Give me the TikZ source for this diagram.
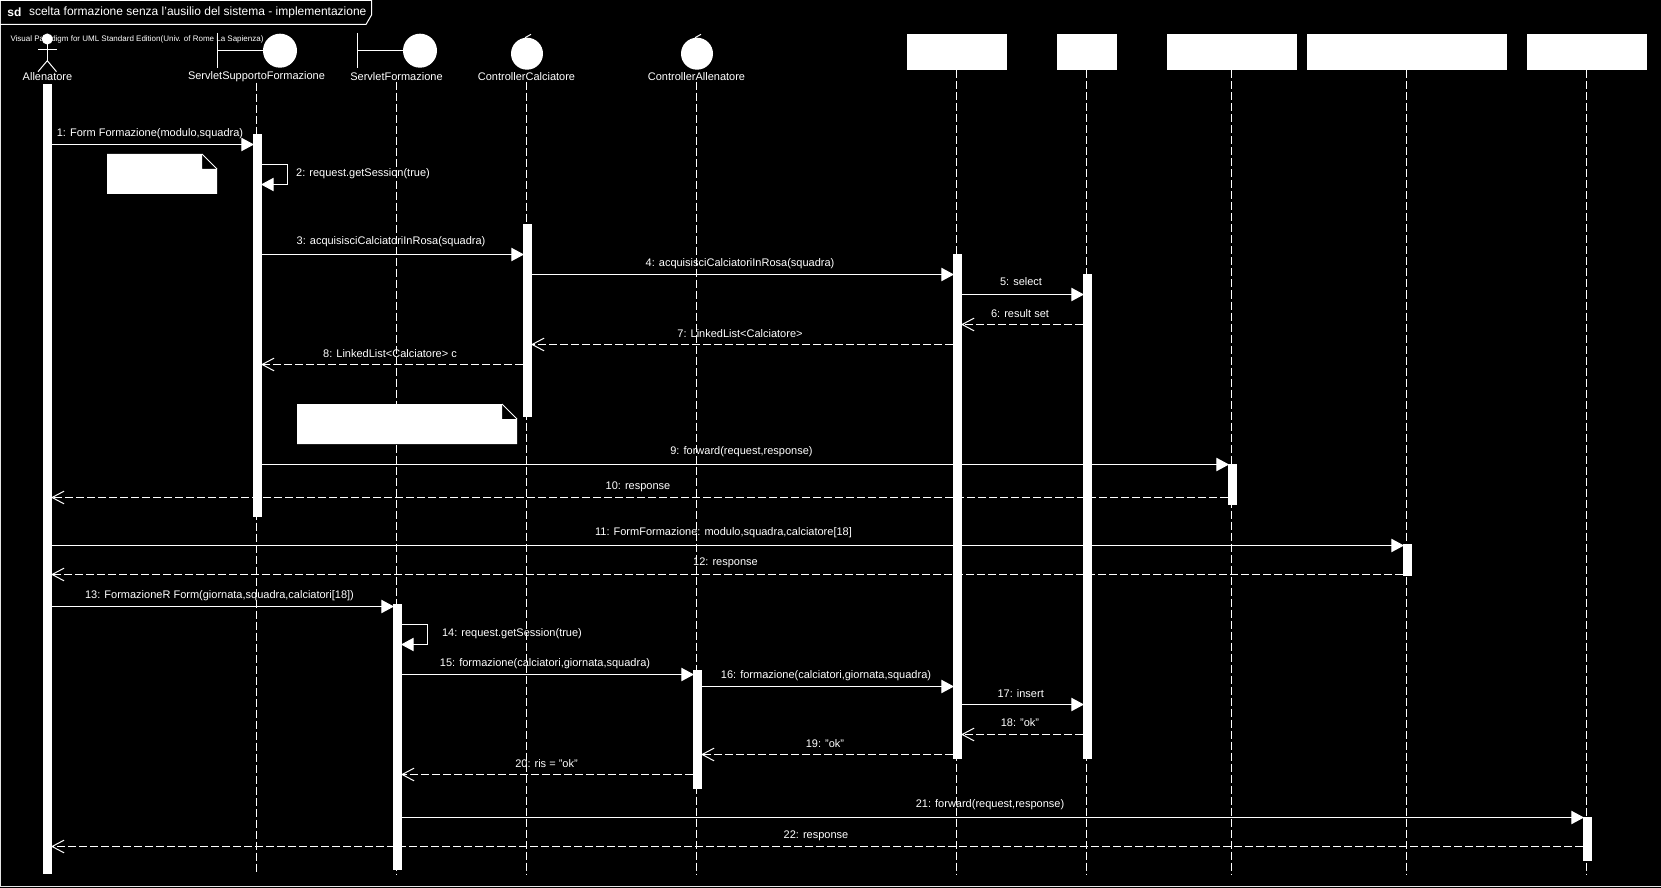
\documentclass[tikz,border=0pt]{standalone}
\usepackage{fontspec}
\setmainfont{Liberation Sans}
\usetikzlibrary{arrows.meta}

\begin{document}
\begin{tikzpicture}[x=0.75pt, y=-0.75pt,
                    white, line width=0.75pt,
                    lbl/.style={inner sep=0pt, text=white, font=\fontsize{8.25}{10}\selectfont},
                    msglbl/.style={lbl, yshift=-1pt},
                    bar/.style={fill=white, inner sep=0pt, outer sep=0pt, minimum width=6.75pt, minimum height=#1*0.75pt, anchor=north},
                    objbox/.style={fill=white, inner sep=0pt, minimum height=27pt, minimum width=#1*0.75pt},
                    circ/.style={circle, fill=white, inner sep=0pt, outer sep=0pt, minimum size=#1*0.75pt},
                    lifeline/.style={dash pattern=on 6pt off 2.25pt},
                    msg/.style={shorten >=-0.75pt, -{Triangle[length=9.5pt, width=10pt]}},
                    ret/.style={dash pattern=on 6pt off 2.25pt, shorten >=-0.75pt, -{Straight Barb[length=9pt, width=9.5pt]}}
                    ]
    \useasboundingbox (0,0) rectangle (1661,888);
    \fill[black] (0,0) rectangle (1661,888);

    % frame and title
    \draw[gray!20] (0.5,0.5) |- (1661,886.5);
    \draw (0,0.5) -- (371.5,0.5) -- (371.5,15) -- (366,24.5) -- (0,24.5);
    \node[lbl, font=\bfseries\fontsize{9}{11}\selectfont, anchor=west] (sd) at (7,12.7) {sd};
    \node[lbl, font=\fontsize{9}{11}\selectfont, anchor=west] (title) at (28.5,12.7) {scelta formazione senza l'ausilio del sistema - implementazione};
    \node[lbl, font=\fontsize{6}{7}\selectfont, anchor=west] (mark) at (10,39) {Visual Paradigm for UML Standard Edition(Univ. of Rome La Sapienza)};

    \coordinate (bot) at (0,874);

    % actor
    \node[circ=11] (head) at (47.3,39) {};
    \coordinate (hip) at (47.3,60.7);
    \draw (head) -- (hip);
    \draw (38,50) -- (56.5,50);
    \draw (38,71.7) -- (hip) -- (56.5,71.7);
    \node[lbl] (tAll) at (47.5,77) {Allenatore};

    % boundaries
    \node[circ=34] (cSup) at (280,50.7) {};
    \coordinate (wSup) at (217.5,50.7);
    \draw (wSup) -- (cSup);
    \draw (217.5,33) -- (217.5,68);
    \node[lbl] (tSup) at (256.5,77) {ServletSupportoFormazione};

    \node[circ=34] (cFor) at (420,50.7) {};
    \coordinate (wFor) at (357.5,50.7);
    \draw (wFor) -- (cFor);
    \draw (357.5,33) -- (357.5,68);
    \node[lbl] (tFor) at (396.5,77) {ServletFormazione};

    % controllers
    \node[circ=32] (cCal) at (527,53.7) {};
    \draw (525,37.7) -- (531,34.3);
    \node[lbl] (tCal) at (526.5,77) {ControllerCalciatore};

    \node[circ=32] (cCtr) at (697,53.7) {};
    \draw (695,37.7) -- (701,34.3);
    \node[lbl] (tCtr) at (696.5,77) {ControllerAllenatore};

    % boxes
    \node[objbox=100] (boxC) at (956.5,52) {};
    \node[objbox=60]  (boxD) at (1086.5,52) {};
    \node[objbox=130] (boxE) at (1231.5,52) {};
    \node[objbox=200] (boxF) at (1406.5,52) {};
    \node[objbox=120] (boxG) at (1586.5,52) {};

    % lifelines
    \draw[lifeline] (tSup.south) -- (tSup.south |- bot);
    \draw[lifeline] (tFor.south) -- (tFor.south |- bot);
    \draw[lifeline] (tCal.south) -- (tCal.south |- bot);
    \draw[lifeline] (tCtr.south) -- (tCtr.south |- bot);
    \draw[lifeline] (boxC.south) -- (boxC.south |- bot);
    \draw[lifeline] (boxD.south) -- (boxD.south |- bot);
    \draw[lifeline] (boxE.south) -- (boxE.south |- bot);
    \draw[lifeline] (boxF.south) -- (boxF.south |- bot);
    \draw[lifeline] (boxG.south) -- (boxG.south |- bot);

    % activations
    \node[bar=790] (barAll) at (47.5,84) {};
    \node[bar=383] (barSup) at (257.5,134) {};
    \node[bar=266] (barFor) at (397.5,604) {};
    \node[bar=192.5] (barCal) at (527.5,224) {};
    \node[bar=119] (barCtr) at (697.5,670) {};
    \node[bar=505] (barC) at (957.5,254) {};
    \node[bar=485] (barD) at (1087.5,274) {};
    \node[bar=41]  (barE) at (1232.5,464) {};
    \node[bar=32]  (barF) at (1407.5,544) {};
    \node[bar=44]  (barG) at (1587.5,817) {};

    % notes
    \fill (107,154) -- (202,154) -- (202,169) -- (217,169) -- (217,194) -- (107,194) -- cycle;
    \draw (202,154) -- (217,169);
    \fill (297,404) -- (502,404) -- (502,419) -- (517,419) -- (517,444) -- (297,444) -- cycle;
    \draw (502,404) -- (517,419);

    % message rows
    \coordinate (m1) at (0,144.5);   \coordinate (m2) at (0,164.5);   \coordinate (n2) at (0,184.5);
    \coordinate (m3) at (0,254.5);   \coordinate (m4) at (0,274.5);   \coordinate (m5) at (0,294.5);
    \coordinate (m6) at (0,324.5);   \coordinate (m7) at (0,344.5);   \coordinate (m8) at (0,364.5);
    \coordinate (m9) at (0,464.5);   \coordinate (m10) at (0,497.5);  \coordinate (m11) at (0,545.5);
    \coordinate (m12) at (0,574.5);  \coordinate (m13) at (0,606.5);  \coordinate (m14) at (0,624.5);
    \coordinate (n14) at (0,644.5);  \coordinate (m15) at (0,674.5);  \coordinate (m16) at (0,686.5);
    \coordinate (m17) at (0,704.5);  \coordinate (m18) at (0,734.5);  \coordinate (m19) at (0,754.5);
    \coordinate (m20) at (0,774.5);  \coordinate (m21) at (0,817.5);  \coordinate (m22) at (0,846.5);

    \draw[msg] (barAll.east |- m1) -- (barSup.west |- m1);
    \draw[msg] (barSup.east |- m2) -- ++(25.5,0) |- (barSup.east |- n2);
    \draw[msg] (barSup.east |- m3) -- (barCal.west |- m3);
    \draw[msg] (barCal.east |- m4) -- (barC.west |- m4);
    \draw[msg] (barC.east |- m5) -- (barD.west |- m5);
    \draw[ret] (barD.west |- m6) -- (barC.east |- m6);
    \draw[ret] (barC.west |- m7) -- (barCal.east |- m7);
    \draw[ret] (barCal.west |- m8) -- (barSup.east |- m8);
    \draw[msg] (barSup.east |- m9) -- (barE.west |- m9);
    \draw[ret] (barE.west |- m10) -- (barAll.east |- m10);
    \draw[msg] (barAll.east |- m11) -- (barF.west |- m11);
    \draw[ret] (barF.west |- m12) -- (barAll.east |- m12);
    \draw[msg] (barAll.east |- m13) -- (barFor.west |- m13);
    \draw[msg] (barFor.east |- m14) -- ++(25.5,0) |- (barFor.east |- n14);
    \draw[msg] (barFor.east |- m15) -- (barCtr.west |- m15);
    \draw[msg] (barCtr.east |- m16) -- (barC.west |- m16);
    \draw[msg] (barC.east |- m17) -- (barD.west |- m17);
    \draw[ret] (barD.west |- m18) -- (barC.east |- m18);
    \draw[ret] (barC.west |- m19) -- (barCtr.east |- m19);
    \draw[ret] (barCtr.west |- m20) -- (barFor.east |- m20);
    \draw[msg] (barFor.east |- m21) -- (barG.west |- m21);
    \draw[ret] (barG.west |- m22) -- (barAll.east |- m22);

    % message labels
    \node[msglbl] (l1) at (150,132) {1: Form Formazione(modulo,squadra)};
    \node[msglbl] (l2) at (363,172) {2: request.getSession(true)};
    \node[msglbl] (l3) at (391,240) {3: acquisisciCalciatoriInRosa(squadra)};
    \node[msglbl] (l4) at (740,262) {4: acquisisciCalciatoriInRosa(squadra)};
    \node[msglbl] (l5) at (1021,280) {5: select};
    \node[msglbl] (l6) at (1020,312) {6: result set};
    \node[msglbl] (l7) at (740,332) {7: LinkedList<Calciatore>};
    \node[msglbl] (l8) at (390,352) {8: LinkedList<Calciatore> c};
    \node[msglbl] (l9) at (741.5,450) {9: forward(request,response)};
    \node[msglbl] (l10) at (638,485) {10: response};
    \node[msglbl] (l11) at (723.5,531) {11: FormFormazione: modulo,squadra,calciatore[18]};
    \node[msglbl] (l12) at (725.5,561) {12: response};
    \node[msglbl] (l13) at (219.5,594.7) {13: FormazioneR Form(giornata,squadra,calciatori[18])};
    \node[msglbl] (l14) at (512,632) {14: request.getSession(true)};
    \node[msglbl] (l15) at (545,662.7) {15: formazione(calciatori,giornata,squadra)};
    \node[msglbl] (l16) at (826,674.3) {16: formazione(calciatori,giornata,squadra)};
    \node[msglbl] (l17) at (1020.7,692) {17: insert};
    \node[msglbl] (l18) at (1020,721.7) {18: "ok"};
    \node[msglbl] (l19) at (825,742) {19: "ok"};
    \node[msglbl] (l20) at (546.5,762) {20: ris = "ok"};
    \node[msglbl] (l21) at (990,803) {21: forward(request,response)};
    \node[msglbl] (l22) at (816,834) {22: response};
\end{tikzpicture}
\end{document}
